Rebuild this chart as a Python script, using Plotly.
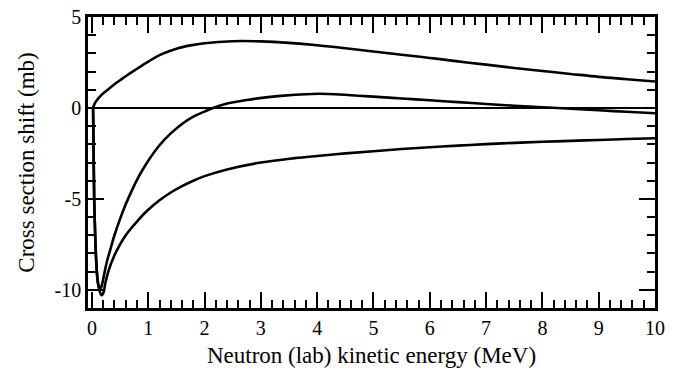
import plotly.graph_objects as go

# Curve A (upper)
xa = [0.02, 0.05, 0.1, 0.15, 0.2, 0.3, 0.4, 0.5, 0.6, 0.75, 1.0, 1.25, 1.5, 1.75, 2.0, 2.5,
      3.0, 3.5, 4.0, 4.5, 5.0, 5.5, 6.0, 6.5, 7.0, 7.5, 8.0, 8.5, 9.0, 9.5, 10.0]
ya = [0.0, 0.25, 0.47, 0.65, 0.8, 1.05, 1.3, 1.52, 1.74, 2.05, 2.55, 2.97, 3.26, 3.44, 3.56, 3.67,
      3.66, 3.58, 3.45, 3.28, 3.1, 2.92, 2.75, 2.56, 2.38, 2.2, 2.03, 1.87, 1.71, 1.58, 1.45]

# Curve B (middle)
xb = [0.02, 0.03, 0.04, 0.06, 0.08, 0.10, 0.12, 0.15, 0.18, 0.22, 0.27, 0.33, 0.4, 0.5, 0.6,
      0.7, 0.8, 0.9, 1.0, 1.2, 1.4, 1.6, 1.8, 2.0, 2.15, 2.4, 2.75, 3.3, 3.9, 4.2, 4.6, 5.0,
      5.5, 6.0, 6.5, 7.0, 7.5, 8.0, 8.5, 9.0, 9.5, 10.0]
yb = [0.0, -2.5, -5.0, -7.2, -8.6, -9.4, -9.8, -9.95, -9.7, -9.1, -8.4, -7.75, -7.0, -6.1, -5.3,
      -4.6, -3.95, -3.4, -2.9, -2.05, -1.4, -0.88, -0.48, -0.2, 0.0, 0.24, 0.44, 0.65, 0.77, 0.77, 0.7, 0.62,
      0.52, 0.42, 0.32, 0.22, 0.12, 0.04, -0.04, -0.13, -0.21, -0.29]

# Curve C (lower)
xc = [0.02, 0.03, 0.04, 0.06, 0.08, 0.10, 0.13, 0.17, 0.2, 0.24, 0.3, 0.4, 0.5, 0.6, 0.7, 0.8,
      0.9, 1.0, 1.2, 1.4, 1.6, 1.8, 2.0, 2.4, 3.0, 3.6, 4.0, 4.5, 5.0, 5.5, 6.0, 6.5, 7.0, 7.5,
      8.0, 8.5, 9.0, 9.5, 10.0]
yc = [0.0, -2.5, -5.0, -7.3, -8.7, -9.5, -10.0, -10.3, -10.2, -9.6, -8.9, -8.1, -7.5, -7.0, -6.6, -6.25,
      -5.9, -5.6, -5.08, -4.65, -4.3, -4.0, -3.75, -3.38, -3.0, -2.76, -2.64, -2.5, -2.38, -2.26, -2.16,
      -2.07, -1.99, -1.92, -1.86, -1.81, -1.76, -1.71, -1.67]

x_ticks = [0, 1, 2, 3, 4, 5, 6, 7, 8, 9, 10]
y_ticks = [-10, -5, 0, 5]
y_tick_labels = ["-10", "-5", "0", "5"]

FONT = "Liberation Serif, Times New Roman, serif"

fig = go.Figure()
for xs, ys in [(xa, ya), (xb, yb), (xc, yc)]:
    fig.add_trace(go.Scatter(x=xs, y=ys, mode="lines", line=dict(color="black", width=2.6),
                             line_shape="spline", showlegend=False, hoverinfo="skip"))

axis_common = dict(
    showline=True, linecolor="black", linewidth=2.5, mirror="allticks",
    ticks="inside", ticklen=16, tickwidth=2, tickcolor="black",
    showgrid=False, tickfont=dict(family=FONT, size=20, color="black"),
    automargin=False,
)

fig.update_xaxes(
    range=[-0.07, 10], tickmode="array", tickvals=x_ticks,
    minor=dict(dtick=0.2, tick0=0, ticks="inside", ticklen=8, tickwidth=2, tickcolor="black", showgrid=False),
    zeroline=False,
    title=dict(text="Neutron (lab) kinetic energy (MeV)", font=dict(family=FONT, size=23, color="black"), standoff=10),
    **axis_common,
)
fig.update_yaxes(
    range=[-11, 5], tickmode="array", tickvals=y_ticks, ticktext=y_tick_labels,
    minor=dict(dtick=1, tick0=0, ticks="inside", ticklen=8, tickwidth=2, tickcolor="black", showgrid=False),
    zeroline=True, zerolinecolor="black", zerolinewidth=2.2,
    title=dict(text="Cross section shift (mb)", font=dict(family=FONT, size=23, color="black"), standoff=14),
    **axis_common,
)

fig.update_layout(
    width=690, height=371,
    margin=dict(l=88, r=35, t=17, b=63),
    plot_bgcolor="white", paper_bgcolor="white",
    font=dict(family=FONT, color="black"),
)

fig.write_html("out.html", config={"displayModeBar": False},
               post_script="document.body.style.margin='0';")
